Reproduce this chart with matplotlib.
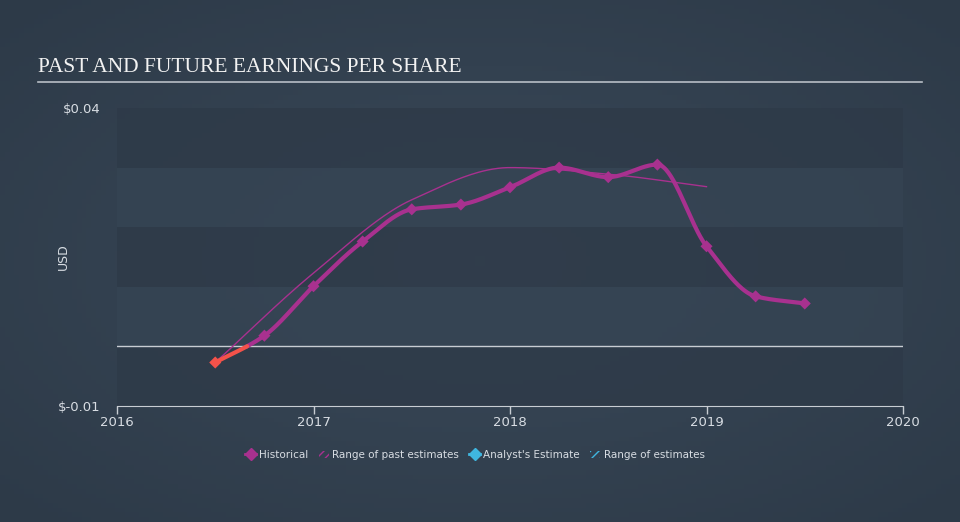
import numpy as np
import matplotlib.pyplot as plt
from matplotlib.colors import LinearSegmentedColormap
from matplotlib.lines import Line2D
from matplotlib.patches import Patch

# quarterly EPS (decimal years)
hist_x = [2016.5, 2016.75, 2017.0, 2017.25, 2017.5, 2017.75, 2018.0, 2018.25,
          2018.5, 2018.75, 2019.0, 2019.25, 2019.5]
hist_y = [-0.0027, 0.0018, 0.0101, 0.0176, 0.0230, 0.0238, 0.0267, 0.0300,
          0.0284, 0.0305, 0.0168, 0.0084, 0.0072]

# past analyst estimates (thin line)
past_x = [2016.5, 2017.0, 2017.5, 2018.0, 2018.5, 2019.0]
past_y = [-0.0027, 0.0123, 0.0246, 0.0300, 0.0289, 0.0268]

x_ticks = [2016, 2017, 2018, 2019, 2020]

bg = "#323f4d"
magenta = "#a8318f"
red = "#f4524a"
cyan = "#3fb6e0"
txt = "#d8dde3"


def monotone(x, y, n=40):
    # monotone cubic hermite, like d3.curveMonotoneX
    x = np.asarray(x, float)
    y = np.asarray(y, float)
    h = np.diff(x)
    d = np.diff(y) / h
    m = np.zeros_like(y)
    m[0], m[-1] = d[0], d[-1]
    for i in range(1, len(y) - 1):
        if d[i - 1] * d[i] <= 0:
            m[i] = 0
        else:
            m[i] = 3 * (h[i - 1] + h[i]) / ((2 * h[i] + h[i - 1]) / d[i - 1] + (h[i] + 2 * h[i - 1]) / d[i])
    xs, ys = [], []
    for i in range(len(h)):
        t = np.linspace(0, 1, n, endpoint=False)
        h00 = 2 * t**3 - 3 * t**2 + 1
        h10 = t**3 - 2 * t**2 + t
        h01 = -2 * t**3 + 3 * t**2
        h11 = t**3 - t**2
        xs.append(x[i] + t * h[i])
        ys.append(h00 * y[i] + h10 * h[i] * m[i] + h01 * y[i + 1] + h11 * h[i] * m[i + 1])
    xs.append([x[-1]])
    ys.append([y[-1]])
    return np.concatenate(xs), np.concatenate(ys)


fig = plt.figure(figsize=(9.6, 5.22), dpi=100, facecolor=bg)

# soft radial background, lighter in the middle
bgax = fig.add_axes([0, 0, 1, 1], zorder=-10)
gx, gy = np.meshgrid(np.linspace(-1, 1, 200), np.linspace(-1, 1, 110))
grad = np.clip(1 - np.sqrt(gx**2 + gy**2) / 1.4, 0, 1)
bgax.imshow(grad, cmap=LinearSegmentedColormap.from_list("bg", ["#2d3a48", "#3a4959"]),
            aspect="auto", extent=[0, 1, 0, 1])
bgax.axis("off")

ax = fig.add_axes([117 / 960, 1 - 406 / 522, 786 / 960, 298 / 522])
ax.set_facecolor("none")

# alternating bands
for i, lo in enumerate(np.arange(-0.01, 0.04, 0.01)):
    col = "#2e3a48" if i % 2 == 0 else "#354453"
    ax.axhspan(lo, lo + 0.01, color=col, lw=0, zorder=0, alpha=0.8)

ax.axhline(0, color="#c8cdd3", lw=1, zorder=1)

# past estimates
px, py = monotone(past_x, past_y)
ax.plot(px, py, color=magenta, lw=1, zorder=2)

# historical
hx, hy = monotone(hist_x, hist_y)
neg = hy <= 0
cut = np.argmax(~neg)
ax.plot(hx[cut - 1:], hy[cut - 1:], color=magenta, lw=3, zorder=3, solid_capstyle="round")
ax.plot(hx[:cut + 1], hy[:cut + 1], color=red, lw=3, zorder=4, solid_capstyle="round")
mcol = [red if v < 0 else magenta for v in hist_y]
ax.scatter(hist_x, hist_y, marker="D", s=38, c=mcol, zorder=5, linewidths=0)

ax.set_xlim(2016, 2020)
ax.set_ylim(-0.01, 0.04)
ax.set_xticks(x_ticks)
ax.set_xticklabels([str(t) for t in x_ticks])
ax.set_yticks([-0.01, 0.04])
ax.set_yticklabels(["$-0.01", "$0.04"])
ax.tick_params(axis="x", colors="#c8cdd3", labelcolor=txt, labelsize=9.5, length=6, width=1, pad=1)
ax.tick_params(axis="y", length=0, labelcolor=txt, labelsize=9.5, pad=12)
for s in ["top", "right", "left"]:
    ax.spines[s].set_visible(False)
ax.spines["bottom"].set_color("#c8cdd3")
ax.set_ylabel("USD", color=txt, fontsize=9)
ax.yaxis.set_label_coords(-0.06, 0.5)

# title
fig.text(38 / 960, 1 - 68 / 522, "PAST AND FUTURE EARNINGS PER SHARE", family="Liberation Serif",
         color="#f2f2f2", fontsize=15.5, va="center")
fig.add_artist(Line2D([38 / 960, 922 / 960], [1 - 82 / 522] * 2, color="#b8bec6", lw=1.2))

handles = [
    Line2D([], [], color=magenta, marker="D", lw=2, markersize=6),
    Patch(facecolor="none", edgecolor=magenta, hatch="////", lw=0),
    Line2D([], [], color=cyan, marker="D", lw=2, markersize=6),
    Patch(facecolor="none", edgecolor=cyan, hatch="////", lw=0),
]
labels = ["Historical", "Range of past estimates", "Analyst's Estimate", "Range of estimates"]
leg = fig.legend(handles, labels, loc="center", bbox_to_anchor=(475 / 960, 1 - 455 / 522), ncol=4,
                 frameon=False, fontsize=7.5, labelcolor=txt, handlelength=1.0, handletextpad=0.3,
                 columnspacing=1.0)

fig.savefig("out.png", dpi=100, facecolor=bg)
